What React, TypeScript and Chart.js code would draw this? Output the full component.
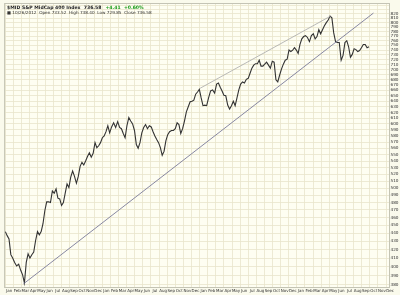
import React, { useEffect, useRef } from "react";
import { Chart, registerables } from "chart.js";

Chart.register(...registerables);

// ---- data ----
const MONTH_NAMES = ["Jan", "Feb", "Mar", "Apr", "May", "Jun", "Jul", "Aug", "Sep", "Oct", "Nov", "Dec"];
const AXIS_START_YEAR = 2009;
const SERIES_START = "2009-01-02"; // weekly closes from this date
const weeklyClose = [
  442, 437, 433, 414, 410, 405, 401, 403, 396, 391,
  382, 405, 415, 410, 414, 417, 431, 442, 438, 442,
  452, 469, 481, 481, 480, 496, 493, 499, 486, 485,
  476, 480, 493, 506, 501, 516, 525, 517, 507, 517,
  532, 538, 534, 540, 547, 553, 546, 552, 569, 561,
  564, 569, 577, 580, 587, 597, 585, 595, 602, 594,
  604, 594, 592, 584, 577, 597, 611, 605, 600, 589,
  566, 560, 569, 585, 594, 599, 592, 597, 595, 587,
  580, 574, 569, 561, 549, 555, 572, 582, 587, 589,
  589, 592, 602, 599, 584, 592, 605, 621, 630, 639,
  640, 642, 653, 657, 662, 646, 632, 633, 632, 646,
  659, 661, 655, 672, 674, 666, 659, 651, 650, 633,
  626, 632, 640, 632, 646, 661, 672, 676, 674, 681,
  683, 693, 703, 709, 712, 712, 719, 707, 707, 711,
  715, 709, 703, 717, 715, 680, 676, 689, 701, 711,
  719, 721, 740, 737, 740, 745, 740, 733, 752, 764,
  769, 771, 767, 758, 771, 775, 764, 769, 784, 775,
  784, 793, 800, 806, 815, 811, 777, 758, 756, 756,
  719, 729, 756, 760, 747, 725, 731, 743, 741, 737,
  739, 745, 752, 752, 745, 747,
];
const lowerTrendDates = ["2009-03-09", "2012-10-15"];
const lowerTrendValues = [381, 822];
const upperTrendDates = ["2011-01-03", "2012-05-06"];
const upperTrendValues = [664, 815];
const yTickValues = [
  380, 390, 400, 410, 420, 430, 440, 450, 460, 470, 480, 490, 500, 510, 520, 530,
  540, 550, 560, 570, 580, 590, 600, 610, 620, 630, 640, 650, 660, 670, 680, 690,
  700, 710, 720, 730, 740, 750, 760, 770, 780, 790, 800, 810, 820, 830, 840,
];
const yLabelMax = 820;
const Y_MIN = 377.7;
const Y_MAX = 843.4;
const X_MAX_MONTH = 47.37;
const titleMain = "$MID S&P MidCap 400 Index  736.58";
const titleChange = "+4.41  +0.60%";
const titleSub = "\u25A0 10/26/2012  Open 733.52  High 738.40  Low 729.85  Close 736.58";

// ---- helpers ----
function monthPosOf(y: number, m: number, d: number) {
  const dim = new Date(y, m + 1, 0).getDate();
  return (y - AXIS_START_YEAR) * 12 + m + (d - 1) / dim;
}
function monthPosIso(iso: string) {
  const [y, m, d] = iso.split("-").map(Number);
  return monthPosOf(y, m - 1, d);
}
function weeklyPoints() {
  const [y, m, d] = SERIES_START.split("-").map(Number);
  return weeklyClose.map((v, i) => {
    const dt = new Date(y, m - 1, d + 7 * i);
    return { x: monthPosOf(dt.getFullYear(), dt.getMonth(), dt.getDate()), y: v };
  });
}
function trend(dates: string[], values: number[]) {
  return dates.map((dd, i) => ({ x: monthPosIso(dd), y: values[i] }));
}

const FONT = '"DejaVu Sans", "Liberation Sans", sans-serif';

const bgPlugin = {
  id: "bgPlugin",
  beforeDraw(chart: any) {
    const { ctx, chartArea, width, height } = chart;
    ctx.save();
    ctx.fillStyle = "#FAFAEC";
    ctx.fillRect(0, 0, width, height);
    ctx.fillStyle = "#FEFEF2";
    ctx.fillRect(chartArea.left, chartArea.top, chartArea.right - chartArea.left, chartArea.bottom - chartArea.top);
    ctx.restore();
  },
  afterDraw(chart: any) {
    const { ctx, chartArea } = chart;
    ctx.save();
    ctx.strokeStyle = "#C4C4B4";
    ctx.lineWidth = 1;
    ctx.strokeRect(chartArea.left - 0.5, chartArea.top - 0.5, chartArea.right - chartArea.left + 1, chartArea.bottom - chartArea.top + 1);
    ctx.textBaseline = "top";
    ctx.font = `bold 4.6px ${FONT}`;
    ctx.fillStyle = "#222";
    const x0 = chartArea.left + 2;
    ctx.fillText(titleMain, x0, chartArea.top + 1.5);
    const w = ctx.measureText(titleMain).width;
    ctx.fillStyle = "#1E9E1E";
    ctx.fillText(titleChange, x0 + w + 4, chartArea.top + 1.5);
    ctx.font = `4.2px ${FONT}`;
    ctx.fillStyle = "#333";
    ctx.fillText(titleSub, x0, chartArea.top + 7);
    ctx.restore();
  },
};

export default function App() {
  const ref = useRef<HTMLCanvasElement | null>(null);
  useEffect(() => {
    document.body.style.margin = "0";
    const canvas = ref.current;
    if (!canvas) return;
    const chart = new Chart(canvas, {
      type: "line",
      data: {
        datasets: [
          {
            data: trend(upperTrendDates, upperTrendValues),
            borderColor: "#A8A8A8",
            borderWidth: 0.8,
            pointRadius: 0,
            tension: 0,
          },
          {
            data: trend(lowerTrendDates, lowerTrendValues),
            borderColor: "#7B7B98",
            borderWidth: 0.9,
            pointRadius: 0,
            tension: 0,
          },
          {
            data: weeklyPoints(),
            borderColor: "#333333",
            borderWidth: 1.1,
            pointRadius: 0,
            tension: 0,
          },
        ],
      },
      plugins: [bgPlugin],
      options: {
        animation: false,
        responsive: false,
        maintainAspectRatio: false,
        parsing: false as any,
        normalized: true,
        layout: { padding: { left: 1, top: 1, right: 0, bottom: 0 } },
        plugins: { legend: { display: false }, tooltip: { enabled: false }, title: { display: false } },
        scales: {
          x: {
            type: "linear",
            min: 0,
            max: X_MAX_MONTH,
            afterBuildTicks: (scale: any) => {
              const t = [];
              for (let m = 0; m <= Math.floor(X_MAX_MONTH); m++) t.push({ value: m });
              scale.ticks = t;
            },
            afterFit: (scale: any) => {
              scale.height = 8;
            },
            grid: { color: "#E8E5CB", lineWidth: 0.8, drawTicks: false },
            border: { display: false },
            ticks: {
              autoSkip: false,
              maxRotation: 0,
              minRotation: 0,
              padding: 2,
              labelOffset: 4,
              color: "#333",
              font: { size: 4, family: FONT },
              callback: (v: any) => MONTH_NAMES[((Math.round(Number(v)) % 12) + 12) % 12],
            },
          },
          y: {
            type: "logarithmic",
            position: "right",
            min: Y_MIN,
            max: Y_MAX,
            afterBuildTicks: (scale: any) => {
              scale.ticks = yTickValues.map((v) => ({ value: v }));
            },
            afterFit: (scale: any) => {
              scale.width = 11;
            },
            grid: { color: "#E8E5CB", lineWidth: 0.8, drawTicks: false },
            border: { display: false },
            ticks: {
              autoSkip: false,
              padding: 1.5,
              color: "#333",
              font: { size: 4.2, family: FONT },
              callback: (v: any) => (Number(v) <= yLabelMax ? String(Number(v)) : ""),
            },
          },
        },
      },
    });
    return () => chart.destroy();
  }, []);
  return (
    <div style={{ width: 400, height: 295 }}>
      <canvas ref={ref} width={400} height={295} style={{ display: "block" }} />
    </div>
  );
}
